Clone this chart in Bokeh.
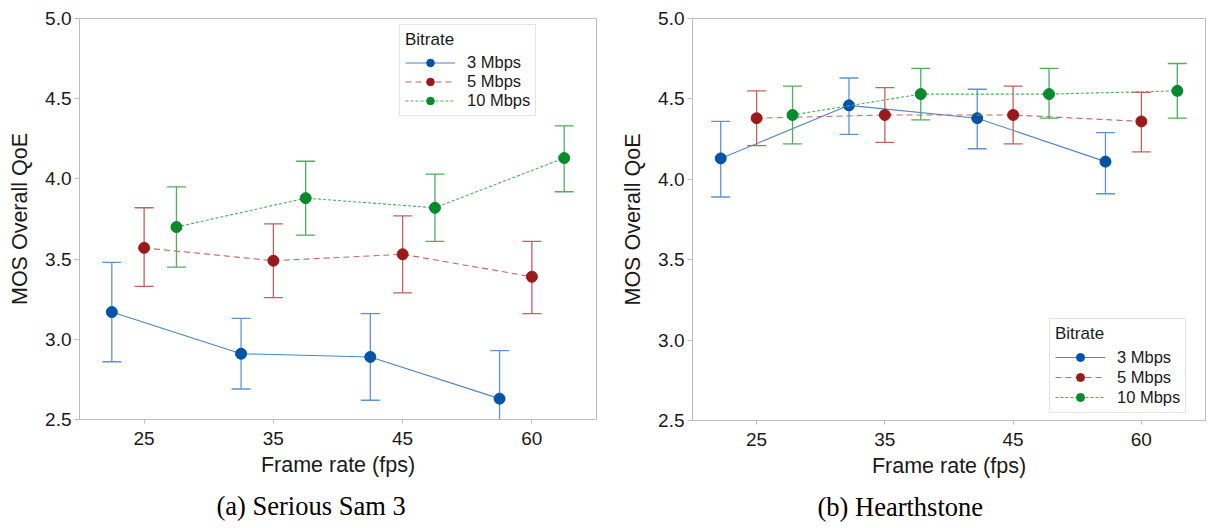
from bokeh.plotting import figure
from bokeh.layouts import row
from bokeh.models import (Range1d, FixedTicker, NumeralTickFormatter, Legend,
                          LegendItem, Title, ColumnDataSource)
from bokeh.embed import file_html
from bokeh.resources import INLINE

# ---------------- data ----------------
fps_labels = ["25", "35", "45", "60"]
bitrates = ["3 Mbps", "5 Mbps", "10 Mbps"]

# (a) Serious Sam 3
ss_mean_3 = [3.17, 2.91, 2.89, 2.63]
ss_upper_3 = [3.48, 3.13, 3.16, 2.93]
ss_lower_3 = [2.86, 2.69, 2.62, 2.34]
ss_mean_5 = [3.57, 3.49, 3.53, 3.39]
ss_upper_5 = [3.82, 3.72, 3.77, 3.61]
ss_lower_5 = [3.33, 3.26, 3.29, 3.16]
ss_mean_10 = [3.70, 3.88, 3.82, 4.13]
ss_upper_10 = [3.95, 4.11, 4.03, 4.33]
ss_lower_10 = [3.45, 3.65, 3.61, 3.92]

# (b) Hearthstone
hs_mean_3 = [4.13, 4.46, 4.38, 4.11]
hs_upper_3 = [4.36, 4.63, 4.56, 4.29]
hs_lower_3 = [3.89, 4.28, 4.19, 3.91]
hs_mean_5 = [4.38, 4.40, 4.40, 4.36]
hs_upper_5 = [4.55, 4.57, 4.58, 4.54]
hs_lower_5 = [4.21, 4.23, 4.22, 4.17]
hs_mean_10 = [4.40, 4.53, 4.53, 4.55]
hs_upper_10 = [4.58, 4.69, 4.69, 4.72]
hs_lower_10 = [4.22, 4.37, 4.38, 4.38]

y_ticks = [2.5, 3.0, 3.5, 4.0, 4.5, 5.0]

# ---------------- styles ----------------
FONT = "Liberation Sans"
GRAY = "#bdbdbd"
TXT = "#1a1a1a"
styles = [
    dict(marker="#0153a5", line="#4f86c8", err="#5f94d2", dash="solid"),
    dict(marker="#9a1a1c", line="#c46464", err="#c26262", dash="6 4"),
    dict(marker="#078a2c", line="#4fae5c", err="#4fae5c", dash="3 2"),
]


def make_panel(means, uppers, lowers, offset, caption, cap_offset, legend_loc,
               row_h, mb_left, mb_right, frame_w, frame_h):
    p = figure(frame_width=frame_w, frame_height=frame_h,
               x_range=Range1d(-0.5, len(fps_labels) - 0.5),
               y_range=Range1d(y_ticks[0], y_ticks[-1]),
               output_backend="svg", toolbar_location=None,
               min_border_left=mb_left, min_border_right=mb_right,
               min_border_top=18, min_border_bottom=0,
               background_fill_color="white", border_fill_color="white")
    p.outline_line_color = GRAY
    p.outline_line_width = 1
    p.xgrid.visible = False
    p.ygrid.visible = False

    idx = list(range(len(fps_labels)))
    p.xaxis.ticker = FixedTicker(ticks=idx)
    p.xaxis.major_label_overrides = {i: lab for i, lab in zip(idx, fps_labels)}
    p.yaxis.ticker = FixedTicker(ticks=y_ticks)
    p.yaxis.formatter = NumeralTickFormatter(format="0.0")
    p.xaxis.axis_label = "Frame rate (fps)"
    p.yaxis.axis_label = "MOS Overall QoE"
    for ax in (p.xaxis, p.yaxis):
        ax.axis_line_color = GRAY
        ax.major_tick_line_color = GRAY
        ax.minor_tick_line_color = None
        ax.major_tick_in = 0
        ax.major_label_text_font = FONT
        ax.major_label_text_font_size = "19px"
        ax.major_label_text_color = TXT
        ax.axis_label_text_font = FONT
        ax.axis_label_text_font_size = "21.5px"
        ax.axis_label_text_font_style = "normal"
        ax.axis_label_text_color = TXT
    p.xaxis.major_tick_out = 4
    p.yaxis.major_tick_out = 5
    p.xaxis.major_label_standoff = 8
    p.yaxis.major_label_standoff = 3
    p.xaxis.axis_label_standoff = 5
    p.yaxis.axis_label_standoff = 10

    items = []
    for k, (m, up, lo, st, name) in enumerate(zip(means, uppers, lowers, styles, bitrates)):
        xs = [i + (k - 1) * offset for i in idx]
        src = ColumnDataSource(dict(x=xs, y=m, up=up, lo=lo))
        p.segment(x0="x", y0="lo", x1="x", y1="up", source=src,
                  line_color=st["err"], line_width=1.3)
        p.scatter(x="x", y="up", source=src, marker="dash", size=19,
                  line_color=st["err"], line_width=1.3)
        p.scatter(x="x", y="lo", source=src, marker="dash", size=19,
                  line_color=st["err"], line_width=1.3)
        lr = p.line(x="x", y="y", source=src, line_color=st["line"],
                    line_width=1.1, line_dash=st["dash"])
        sr = p.scatter(x="x", y="y", source=src, marker="circle", size=11,
                       fill_color=st["marker"], line_color=st["marker"])
        items.append(LegendItem(label=name, renderers=[lr, sr]))

    legend = Legend(items=items, title="Bitrate", location=legend_loc,
                    border_line_color="#c8c8c8", border_line_width=1,
                    background_fill_color="white", background_fill_alpha=1,
                    padding=5, spacing=0, margin=0,
                    glyph_width=50, glyph_height=row_h, label_height=row_h,
                    label_standoff=12, title_standoff=3,
                    label_text_font=FONT, label_text_font_size="16.5px",
                    label_text_color=TXT,
                    title_text_font=FONT, title_text_font_size="17px",
                    title_text_font_style="normal", title_text_color=TXT)
    p.add_layout(legend)

    cap = Title(text=caption, align="left", offset=cap_offset, standoff=19,
                text_font="Liberation Serif", text_font_size="26.5px",
                text_font_style="normal", text_color="black")
    p.add_layout(cap, "below")
    return p


p1 = make_panel([ss_mean_3, ss_mean_5, ss_mean_10],
                [ss_upper_3, ss_upper_5, ss_upper_10],
                [ss_lower_3, ss_lower_5, ss_lower_10],
                0.25, "(a) Serious Sam 3", 137, (320, 303), 19,
                79, 8, 517, 401)
p2 = make_panel([hs_mean_3, hs_mean_5, hs_mean_10],
                [hs_upper_3, hs_upper_5, hs_upper_10],
                [hs_lower_3, hs_lower_5, hs_lower_10],
                0.28, "(b) Hearthstone", 125, (357, 7), 20,
                88, 3, 513, 402)

layout = row(p1, p2)
open("out.html", "w").write(file_html(layout, INLINE))
